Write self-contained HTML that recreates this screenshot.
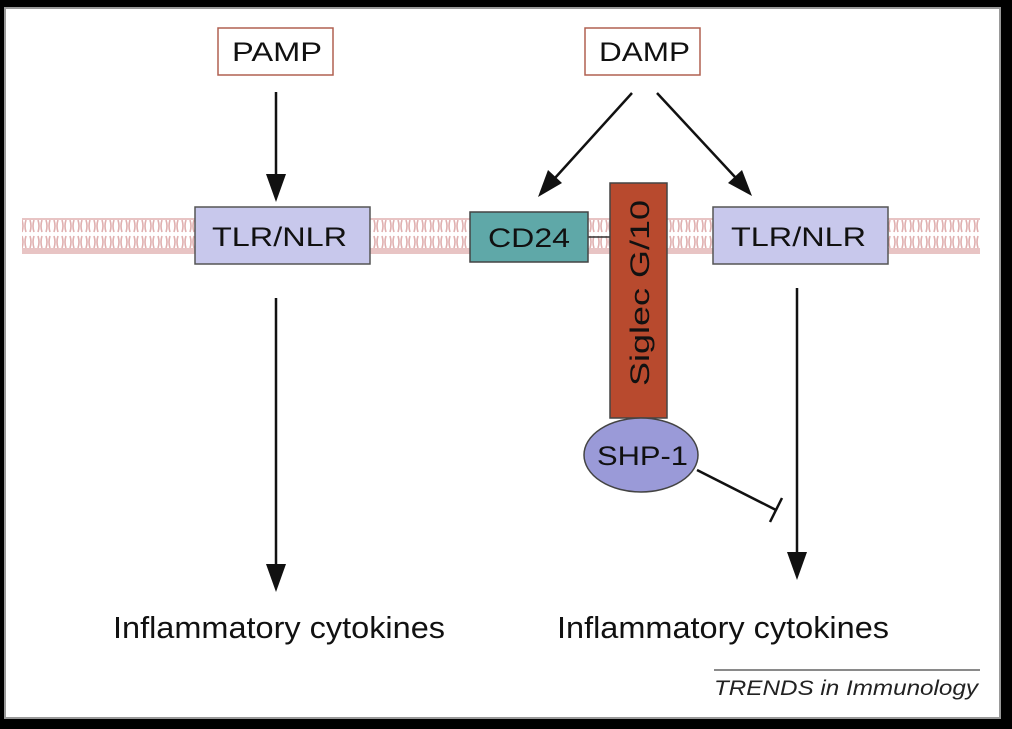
<!DOCTYPE html>
<html><head><meta charset="utf-8"><style>
html,body{margin:0;padding:0;background:#000;}
body{width:1012px;height:724px;overflow:hidden;}
</style></head><body>
<svg width="1012" height="724" viewBox="0 0 1012 724" xmlns="http://www.w3.org/2000/svg" font-family="Liberation Sans, sans-serif">
<defs>
<pattern id="mem" x="0" y="0" width="8" height="36" patternUnits="userSpaceOnUse">
<rect width="8" height="36" fill="#fff"/>
<rect x="0" y="0" width="8" height="4" fill="#e8c4c4"/>
<rect x="0" y="32" width="8" height="4" fill="#e8c4c4"/>
<path d="M2 4 Q0 10 2 16 M6 4 Q8 10 6 16 M2 20 Q0 26 2 32 M6 20 Q8 26 6 32" stroke="#e0b0b0" stroke-width="1.6" fill="none"/>
</pattern>
</defs>
<rect x="0" y="0" width="1012" height="724" fill="#000"/>
<rect x="5" y="8" width="995" height="710" fill="#fff" stroke="#999" stroke-width="2"/>
<rect x="22" y="218" width="958" height="36" fill="url(#mem)"/>
<line x1="588" y1="237" x2="612" y2="237" stroke="#333" stroke-width="1.5"/>
<rect x="218" y="28" width="115" height="47" fill="#fff" stroke="#b06050" stroke-width="1.5"/>
<text x="232" y="61" font-size="27" textLength="90" lengthAdjust="spacingAndGlyphs" fill="#111">PAMP</text>
<rect x="585" y="28" width="115" height="47" fill="#fff" stroke="#b06050" stroke-width="1.5"/>
<text x="599" y="61" font-size="27" textLength="91" lengthAdjust="spacingAndGlyphs" fill="#111">DAMP</text>
<rect x="195" y="207" width="175" height="57" fill="#c8c8ec" stroke="#555" stroke-width="1.5"/>
<text x="212" y="246" font-size="27" textLength="135" lengthAdjust="spacingAndGlyphs" fill="#111">TLR/NLR</text>
<rect x="713" y="207" width="175" height="57" fill="#c8c8ec" stroke="#555" stroke-width="1.5"/>
<text x="731" y="246" font-size="27" textLength="135" lengthAdjust="spacingAndGlyphs" fill="#111">TLR/NLR</text>
<rect x="470" y="212" width="118" height="50" fill="#5fa8a8" stroke="#444" stroke-width="1.5"/>
<text x="488" y="247" font-size="27" textLength="82" lengthAdjust="spacingAndGlyphs" fill="#111">CD24</text>
<rect x="610" y="183" width="57" height="235" fill="#b84a2e" stroke="#444" stroke-width="1.5"/>
<text transform="translate(649,386) rotate(-90)" font-size="27" textLength="186" lengthAdjust="spacingAndGlyphs" fill="#111">Siglec G/10</text>
<ellipse cx="641" cy="455" rx="57" ry="37" fill="#9a9ad8" stroke="#444" stroke-width="1.5"/>
<text x="597" y="465" font-size="27" textLength="91" lengthAdjust="spacingAndGlyphs" fill="#111">SHP-1</text>
<g stroke="#111" stroke-width="2.5" fill="#111">
<line x1="276" y1="92" x2="276" y2="180"/>
<polygon points="266,174 286,174 276,202" stroke="none"/>
<line x1="276" y1="298" x2="276" y2="570"/>
<polygon points="266,564 286,564 276,592" stroke="none"/>
<line x1="797" y1="288" x2="797" y2="558"/>
<polygon points="787,552 807,552 797,580" stroke="none"/>
<line x1="632" y1="93" x2="555" y2="178"/>
<polygon points="538,197 548,170 562,183" stroke="none"/>
<line x1="657" y1="93" x2="735" y2="177"/>
<polygon points="752,196 728,183 742,170" stroke="none"/>
<line x1="697" y1="470" x2="776" y2="510"/>
<line x1="770" y1="522" x2="782" y2="498"/>
</g>
<text x="113" y="638" font-size="31" textLength="332" lengthAdjust="spacingAndGlyphs" fill="#111">Inflammatory cytokines</text>
<text x="557" y="638" font-size="31" textLength="332" lengthAdjust="spacingAndGlyphs" fill="#111">Inflammatory cytokines</text>
<line x1="714" y1="670" x2="980" y2="670" stroke="#444" stroke-width="1.2"/>
<text x="714" y="695" font-size="21" font-style="italic" textLength="264" lengthAdjust="spacingAndGlyphs" fill="#222">TRENDS in Immunology</text>
</svg>
</body></html>
